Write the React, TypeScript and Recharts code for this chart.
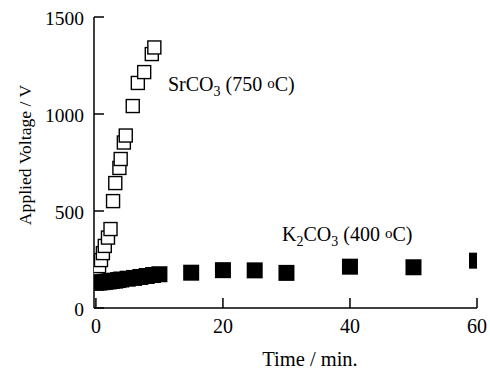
import React from 'react';
import { ScatterChart, Scatter, XAxis, YAxis } from 'recharts';

const srco3Time = [0.2, 0.5, 0.8, 1.1, 1.4, 1.9, 2.3, 2.7, 3.05, 3.7, 3.9, 4.4, 4.7, 5.8, 6.6, 7.6, 8.8, 9.2];
const srco3Volt = [165, 216, 247, 283, 320, 363, 407, 551, 644, 722, 768, 853, 889, 1041, 1160, 1216, 1309, 1343];

const k2co3Time = [0, 0.5, 1, 1.5, 2, 2.5, 3, 3.5, 4, 5, 6, 7, 8, 9, 10, 15, 20, 25, 30, 40, 50, 60];
const k2co3Volt = [130, 131, 133, 135, 137, 139, 141, 144, 147, 151, 155, 160, 165, 170, 174, 182, 195, 194, 181, 213, 210, 244];

const xTicks = [0, 20, 40, 60];
const yTicks = [0, 500, 1000, 1500];

const srco3Data = srco3Time.map((t, i) => ({ t, v: srco3Volt[i] }));
const k2co3Data = k2co3Time.map((t, i) => ({ t, v: k2co3Volt[i] }));

const FONT = 'Liberation Serif';

const OpenSquare = (props: any) => {
  const { cx, cy } = props;
  if (cx == null || cy == null) return null;
  const s = 13;
  return <rect x={cx - s / 2} y={cy - s / 2} width={s} height={s} fill="#fff" stroke="#000" strokeWidth={1.4} />;
};

const FilledSquare = (props: any) => {
  const { cx, cy } = props;
  if (cx == null || cy == null) return null;
  const s = 16;
  return <rect x={cx - s / 2} y={cy - s / 2} width={s} height={s} fill="#000" stroke="none" />;
};

const renderXTick = (props: any) => (
  <text
    key={`xt-${props.payload.value}`}
    x={props.x}
    y={props.y}
    dy={25}
    textAnchor="middle"
    style={{ fontFamily: FONT, fontSize: 20 }}
    fill="#000"
  >
    {props.payload.value}
  </text>
);

const renderYTick = (props: any) => (
  <text
    key={`yt-${props.payload.value}`}
    x={props.x}
    y={props.y}
    dy={7.5}
    textAnchor="end"
    style={{ fontFamily: FONT, fontSize: 19.5 }}
    fill="#000"
  >
    {props.payload.value}
  </text>
);

export default function App() {
  return (
    <div style={{ position: 'absolute', left: 0, top: 0, width: 490, height: 378, background: '#fff', fontFamily: FONT }}>
      <ScatterChart width={490} height={378} margin={{ top: 17, right: 13, left: 0, bottom: 0 }} style={{ fontFamily: FONT }}>
        <XAxis
          dataKey="t"
          type="number"
          domain={[-0.3, 60]}
          ticks={xTicks}
          height={70}
          tickSize={-10}
          tickMargin={10}
          tick={renderXTick}
          axisLine={{ stroke: '#000', strokeWidth: 1.5 }}
          tickLine={{ stroke: '#000', strokeWidth: 1.5 }}
          allowDataOverflow
        />
        <XAxis
          xAxisId="top"
          orientation="top"
          type="number"
          domain={[-0.3, 60]}
          height={0}
          tick={false}
          tickLine={false}
          axisLine={{ stroke: '#000', strokeWidth: 1.5 }}
        />
        <YAxis
          dataKey="v"
          type="number"
          domain={[0, 1500]}
          ticks={yTicks}
          width={94}
          tickSize={-10}
          tickMargin={20}
          tick={renderYTick}
          axisLine={{ stroke: '#000', strokeWidth: 1.5 }}
          tickLine={{ stroke: '#000', strokeWidth: 1.5 }}
          allowDataOverflow
        />
        <YAxis
          yAxisId="right"
          orientation="right"
          type="number"
          domain={[0, 1500]}
          width={0}
          tick={false}
          tickLine={false}
          axisLine={{ stroke: '#000', strokeWidth: 1.5 }}
        />
        <Scatter data={srco3Data} shape={<OpenSquare />} isAnimationActive={false} />
        <Scatter data={k2co3Data} shape={<FilledSquare />} isAnimationActive={false} />
        <text x={310} y={366} textAnchor="middle" style={{ fontFamily: FONT, fontSize: 20.5 }} fill="#000">
          Time / min.
        </text>
        <text
          x={31}
          y={155}
          textAnchor="middle"
          style={{ fontFamily: FONT, fontSize: 17.6 }}
          fill="#000"
          transform="rotate(-90, 31, 155)"
        >
          Applied Voltage / V
        </text>
        <text x={168} y={91} style={{ fontFamily: FONT, fontSize: 20 }} fill="#000">
          <tspan>SrCO</tspan>
          <tspan fontSize={14} dy={5}>3</tspan>
          <tspan dy={-5}> (750 </tspan>
          <tspan fontSize={15} dy={-3}>o</tspan>
          <tspan dy={3}>C)</tspan>
        </text>
        <text x={282} y={241} style={{ fontFamily: FONT, fontSize: 20 }} fill="#000">
          <tspan>K</tspan>
          <tspan fontSize={14} dy={5}>2</tspan>
          <tspan dy={-5}>CO</tspan>
          <tspan fontSize={14} dy={5}>3</tspan>
          <tspan dy={-5}> (400 </tspan>
          <tspan fontSize={15} dy={-3}>o</tspan>
          <tspan dy={3}>C)</tspan>
        </text>
      </ScatterChart>
    </div>
  );
}
